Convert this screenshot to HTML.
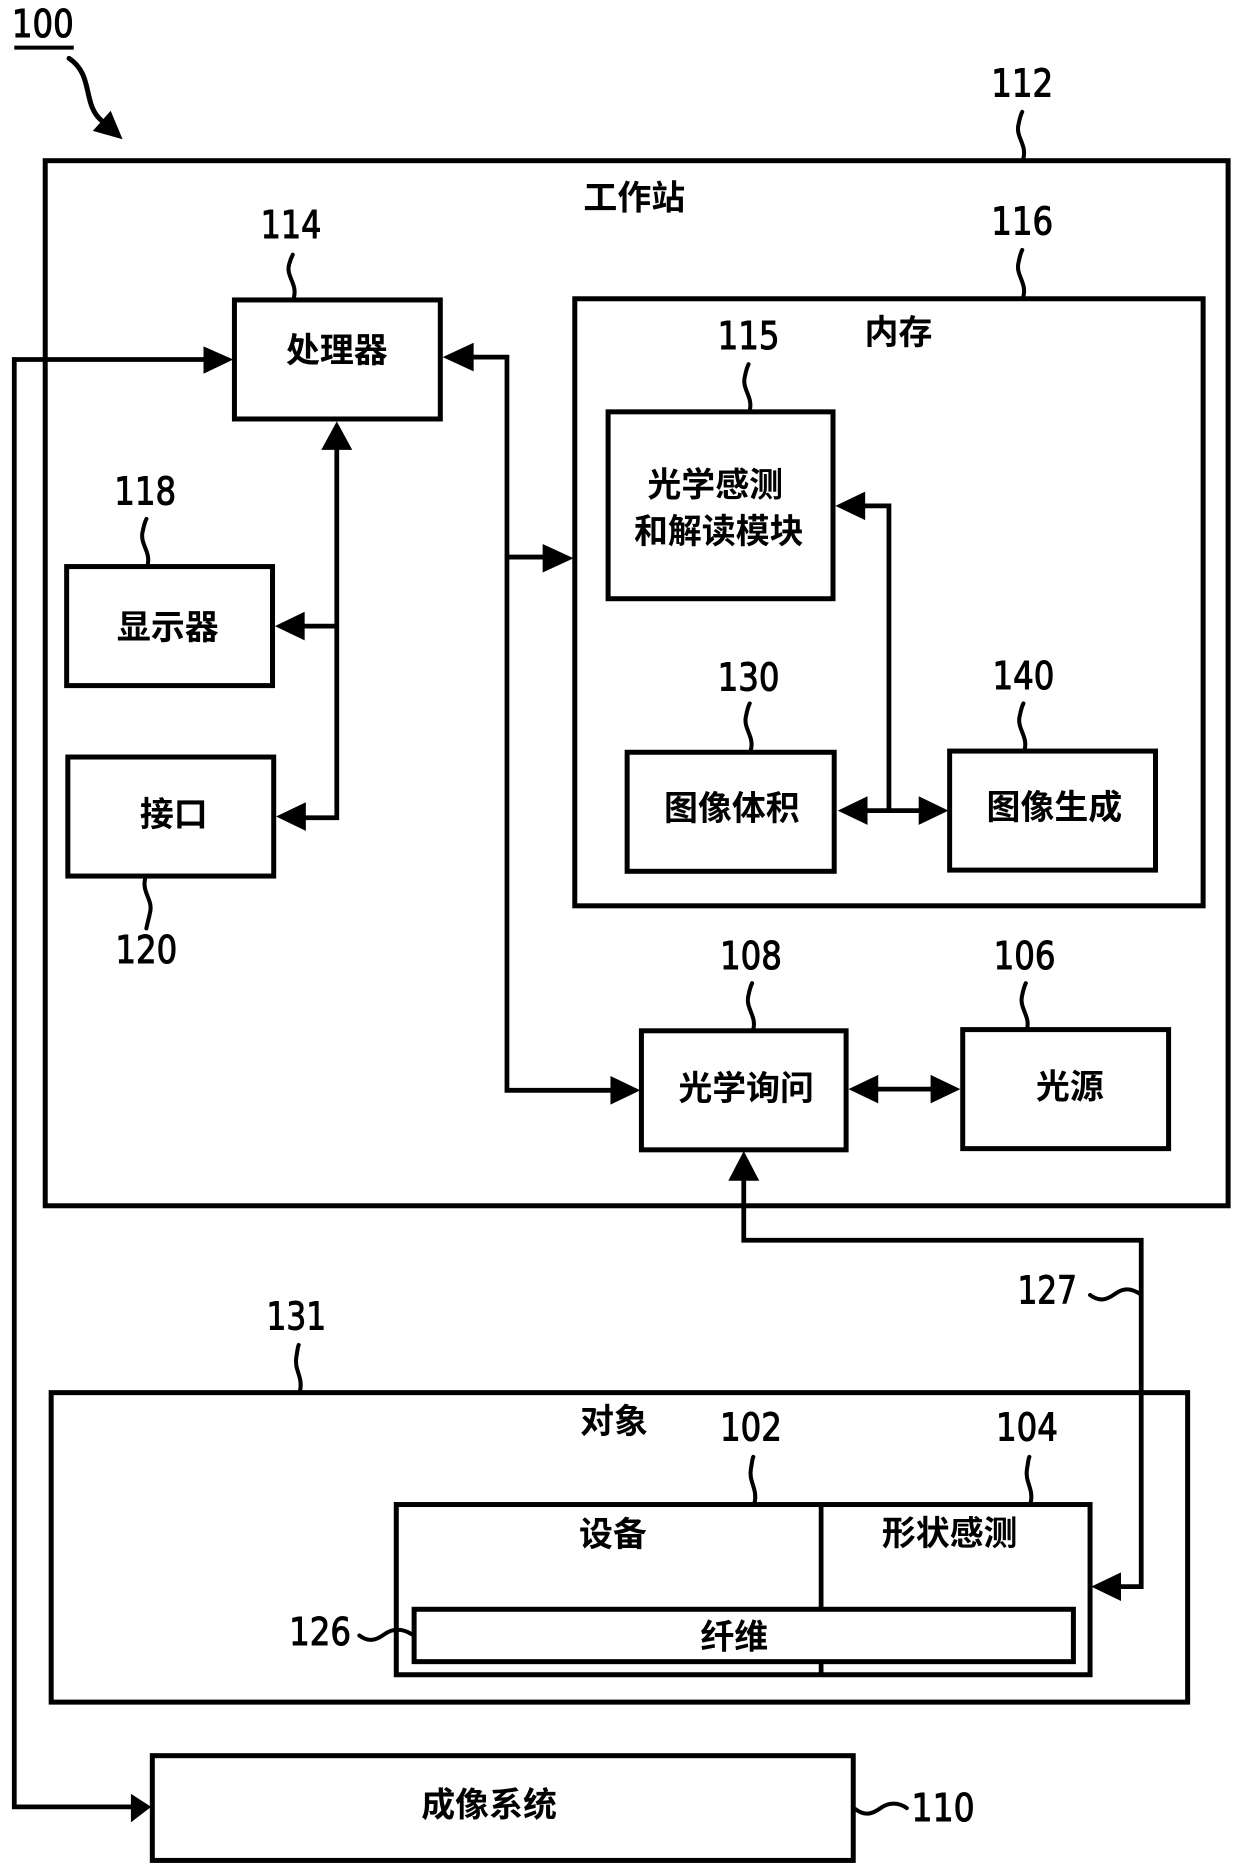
<!DOCTYPE html>
<html><head><meta charset="utf-8"><style>
html,body{margin:0;padding:0;background:#fff}
svg{display:block}
.c{font-family:"Liberation Sans","Noto Sans CJK SC",sans-serif;font-size:28.5px;font-weight:700;text-anchor:middle;fill:#000}
.n{font-family:"DejaVu Sans",sans-serif;font-size:32px;fill:#000;stroke:#000;stroke-width:.9}
.b{fill:#fff;stroke:#000;stroke-width:4.2}
.l{fill:none;stroke:#000;stroke-width:4}
.q{fill:none;stroke:#000;stroke-width:3.4;stroke-linecap:round}
</style></head><body>
<svg width="1240" height="1864" viewBox="0 0 1042 1566" preserveAspectRatio="none" xmlns="http://www.w3.org/2000/svg">
<rect width="1042" height="1566" fill="#fff"/>
<rect class="b" x="38" y="135" width="994" height="878"/>
<rect class="b" x="43" y="1170" width="955" height="260"/>

<rect class="b" x="197" y="252" width="173" height="100"/>
<rect class="b" x="483" y="251" width="528" height="510"/>
<rect class="b" x="511" y="346" width="189" height="157"/>
<rect class="b" x="56" y="476" width="173" height="100"/>
<rect class="b" x="57" y="636" width="173" height="100"/>
<rect class="b" x="527" y="632" width="174" height="100"/>
<rect class="b" x="798" y="631" width="173" height="100"/>
<rect class="b" x="539" y="866" width="172" height="100"/>
<rect class="b" x="809" y="865" width="173" height="100"/>
<rect class="b" x="333" y="1264" width="583" height="143"/>
<rect class="b" x="128" y="1475" width="589" height="88"/>

<path class="l" d="M690 1264V1407"/>
<rect class="b" x="348" y="1352" width="554" height="44"/>

<!-- connectors -->
<path class="l" d="M180 302H12V1518H112"/>
<path class="l" d="M283 372V687H250M283 526H250"/>
<path class="l" d="M392 300H426V916H520M426 468H462"/>
<path class="l" d="M747 681V425H722M722 681H780"/>
<path class="l" d="M730 915H790"/>
<path class="l" d="M625 988V1042H959V1333H938"/>

<!-- arrowheads -->
<g fill="#000">
<polygon points="196,302 171,291 171,314"/>
<polygon points="110,1507 127,1518 110,1531"/>
<polygon points="283,354 270,378 296,378"/>
<polygon points="231,526 256,514 256,538"/>
<polygon points="232,686 257,674 257,698"/>
<polygon points="372,300 398,288 398,312"/>
<polygon points="482,469 456,457 456,481"/>
<polygon points="538,916 513,904 513,928"/>
<polygon points="702,425 727,413 727,437"/>
<polygon points="704,681 729,669 729,693"/>
<polygon points="797,681 772,669 772,693"/>
<polygon points="713,915 738,903 738,927"/>
<polygon points="807,915 782,903 782,927"/>
<polygon points="625,967 612,992 638,992"/>
<polygon points="917,1333 942,1321 942,1345"/>
<polygon points="103,117 78,110 93,93"/>
</g>

<!-- leader squiggles -->
<path class="q" d="M247 250C250 238 240 232 243 222C244 218 245 216 246 214"/>
<path class="q" d="M860 249C863 237 853 231 856 220C857 215 858 212 859 210"/>
<path class="q" d="M860 133C863 121 853 115 856 104C857 99 858 96 859 94"/>
<path class="q" d="M630 345C633 333 623 327 626 316C627 311 628 308 629 306"/>
<path class="q" d="M124 475C127 463 117 457 120 446C121 441 122 438 123 436"/>
<path class="q" d="M122 738C119 750 129 756 126 767C125 772 124 775 123 780"/>
<path class="q" d="M631 630C634 618 624 612 627 601C628 596 629 593 630 591"/>
<path class="q" d="M861 630C864 618 854 612 857 601C858 596 859 593 860 591"/>
<path class="q" d="M633 865C636 853 626 847 629 836C630 831 631 828 632 826"/>
<path class="q" d="M863 865C866 853 856 847 859 836C860 831 861 828 862 826"/>
<path class="q" d="M252 1169C255 1157 247 1151 249 1140C250 1135 250 1132 251 1130"/>
<path class="q" d="M634 1263C637 1251 629 1245 631 1234C632 1229 632 1226 633 1224"/>
<path class="q" d="M866 1263C869 1251 861 1245 863 1234C864 1229 864 1226 865 1224"/>
<path class="q" d="M916 1088C924 1094 930 1092 937 1087C944 1082 950 1082 958 1087"/>
<path class="q" d="M302 1374C310 1380 316 1378 323 1373C330 1368 338 1368 346 1373"/>
<path class="q" d="M719 1520C727 1526 733 1524 740 1519C747 1514 755 1514 762 1519"/>
<path d="M58 49C79 63 69 87 85 101" fill="none" stroke="#000" stroke-width="4.2" stroke-linecap="round"/>
<path d="M12 40H62" stroke="#000" stroke-width="3.4" fill="none"/>

<!-- numbers -->
<g transform="translate(-1,-2)">
<text class="n" x="11" y="33" textLength="52" lengthAdjust="spacingAndGlyphs">100</text>
<text class="n" x="834" y="83" textLength="52" lengthAdjust="spacingAndGlyphs">112</text>
<text class="n" x="220" y="202" textLength="51" lengthAdjust="spacingAndGlyphs">114</text>
<text class="n" x="834" y="199" textLength="52" lengthAdjust="spacingAndGlyphs">116</text>
<text class="n" x="604" y="295" textLength="52" lengthAdjust="spacingAndGlyphs">115</text>
<text class="n" x="97" y="426" textLength="52" lengthAdjust="spacingAndGlyphs">118</text>
<text class="n" x="98" y="811" textLength="52" lengthAdjust="spacingAndGlyphs">120</text>
<text class="n" x="604" y="582" textLength="52" lengthAdjust="spacingAndGlyphs">130</text>
<text class="n" x="835" y="581" textLength="52" lengthAdjust="spacingAndGlyphs">140</text>
<text class="n" x="606" y="816" textLength="52" lengthAdjust="spacingAndGlyphs">108</text>
<text class="n" x="836" y="816" textLength="52" lengthAdjust="spacingAndGlyphs">106</text>
<text class="n" x="856" y="1097" textLength="50" lengthAdjust="spacingAndGlyphs">127</text>
<text class="n" x="225" y="1119" textLength="50" lengthAdjust="spacingAndGlyphs">131</text>
<text class="n" x="606" y="1212" textLength="52" lengthAdjust="spacingAndGlyphs">102</text>
<text class="n" x="838" y="1212" textLength="52" lengthAdjust="spacingAndGlyphs">104</text>
<text class="n" x="244" y="1384" textLength="52" lengthAdjust="spacingAndGlyphs">126</text>
<text class="n" x="767" y="1532" textLength="53" lengthAdjust="spacingAndGlyphs">110</text>
</g>

<!-- labels -->
<text class="c" x="533" y="176">工作站</text>
<text class="c" x="283" y="304">处理器</text>
<text class="c" x="755" y="289">内存</text>
<text class="c" x="601" y="417">光学感测</text>
<text class="c" x="604" y="456">和解读模块</text>
<text class="c" x="141" y="537">显示器</text>
<text class="c" x="146" y="694">接口</text>
<text class="c" x="615" y="689">图像体积</text>
<text class="c" x="886" y="688">图像生成</text>
<text class="c" x="627" y="924">光学询问</text>
<text class="c" x="899" y="923">光源</text>
<text class="c" x="516" y="1204">对象</text>
<text class="c" x="515" y="1299">设备</text>
<text class="c" x="798" y="1298">形状感测</text>
<text class="c" x="617" y="1385">纤维</text>
<text class="c" x="411" y="1526">成像系统</text>
</svg>
</body></html>
